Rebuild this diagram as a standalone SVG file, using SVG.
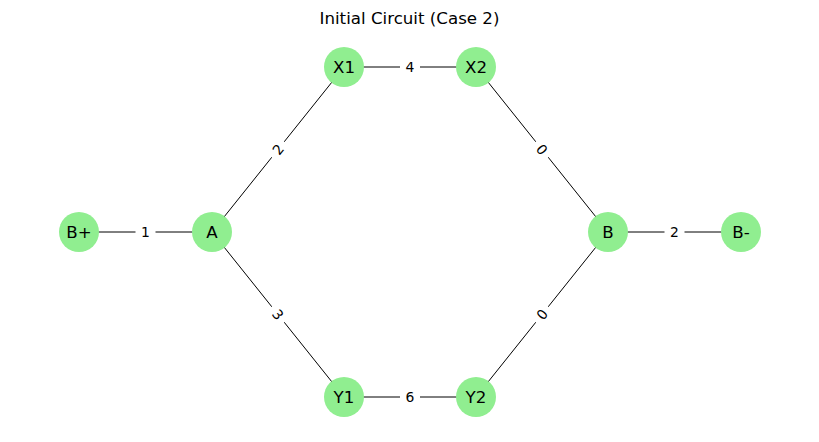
<svg xmlns="http://www.w3.org/2000/svg" width="819" height="442" viewBox="0 0 819 442">
<style>
.edge{stroke:#000;stroke-width:1;fill:none}
.node circle{fill:#90EE90;stroke:none}
.node text{font-family:"DejaVu Sans",sans-serif;font-size:16.67px;fill:#000;text-anchor:middle;dominant-baseline:central}
.lbl rect{fill:#fff;stroke:none}
.lbl text{font-family:"DejaVu Sans",sans-serif;font-size:13.9px;fill:#000;text-anchor:middle;dominant-baseline:central}
.title{font-family:"DejaVu Sans",sans-serif;font-size:16.67px;fill:#000;text-anchor:middle}
</style>
<rect width="819" height="442" fill="#fff"/>
<text class="title" x="409.5" y="24">Initial Circuit (Case 2)</text>
<g id="connectors">
<line class="edge" x1="79" y1="232" x2="212" y2="232"/>
<line class="edge" x1="212" y1="232" x2="344" y2="67"/>
<line class="edge" x1="212" y1="232" x2="344" y2="397"/>
<line class="edge" x1="344" y1="67" x2="476" y2="67"/>
<line class="edge" x1="344" y1="397" x2="476" y2="397"/>
<line class="edge" x1="476" y1="67" x2="608" y2="232"/>
<line class="edge" x1="476" y1="397" x2="608" y2="232"/>
<line class="edge" x1="608" y1="232" x2="741" y2="232"/>
<g class="lbl" transform="translate(145.5,232)"><rect x="-10" y="-11" width="20" height="22" rx="4"/><text x="0" y="0">1</text></g>
<g class="lbl" transform="translate(278,149.5) rotate(-51.3)"><rect x="-10" y="-11" width="20" height="22" rx="4"/><text x="0" y="0">2</text></g>
<g class="lbl" transform="translate(278,314.5) rotate(51.3)"><rect x="-10" y="-11" width="20" height="22" rx="4"/><text x="0" y="0">3</text></g>
<g class="lbl" transform="translate(410,67)"><rect x="-10" y="-11" width="20" height="22" rx="4"/><text x="0" y="0">4</text></g>
<g class="lbl" transform="translate(410,397)"><rect x="-10" y="-11" width="20" height="22" rx="4"/><text x="0" y="0">6</text></g>
<g class="lbl" transform="translate(542,149.5) rotate(51.3)"><rect x="-10" y="-11" width="20" height="22" rx="4"/><text x="0" y="0">0</text></g>
<g class="lbl" transform="translate(542,314.5) rotate(-51.3)"><rect x="-10" y="-11" width="20" height="22" rx="4"/><text x="0" y="0">0</text></g>
<g class="lbl" transform="translate(674.5,232)"><rect x="-10" y="-11" width="20" height="22" rx="4"/><text x="0" y="0">2</text></g>
</g>
<g id="node-Bplus" class="node"><circle cx="79" cy="232" r="20"/><text x="79" y="232">B+</text></g>
<g id="node-A" class="node"><circle cx="212" cy="232" r="20"/><text x="212" y="232">A</text></g>
<g id="node-X1" class="node"><circle cx="344" cy="67" r="20"/><text x="344" y="67">X1</text></g>
<g id="node-X2" class="node"><circle cx="476" cy="67" r="20"/><text x="476" y="67">X2</text></g>
<g id="node-Y1" class="node"><circle cx="344" cy="397" r="20"/><text x="344" y="397">Y1</text></g>
<g id="node-Y2" class="node"><circle cx="476" cy="397" r="20"/><text x="476" y="397">Y2</text></g>
<g id="node-B" class="node"><circle cx="608" cy="232" r="20"/><text x="608" y="232">B</text></g>
<g id="node-Bminus" class="node"><circle cx="741" cy="232" r="20"/><text x="741" y="232">B-</text></g>
</svg>
